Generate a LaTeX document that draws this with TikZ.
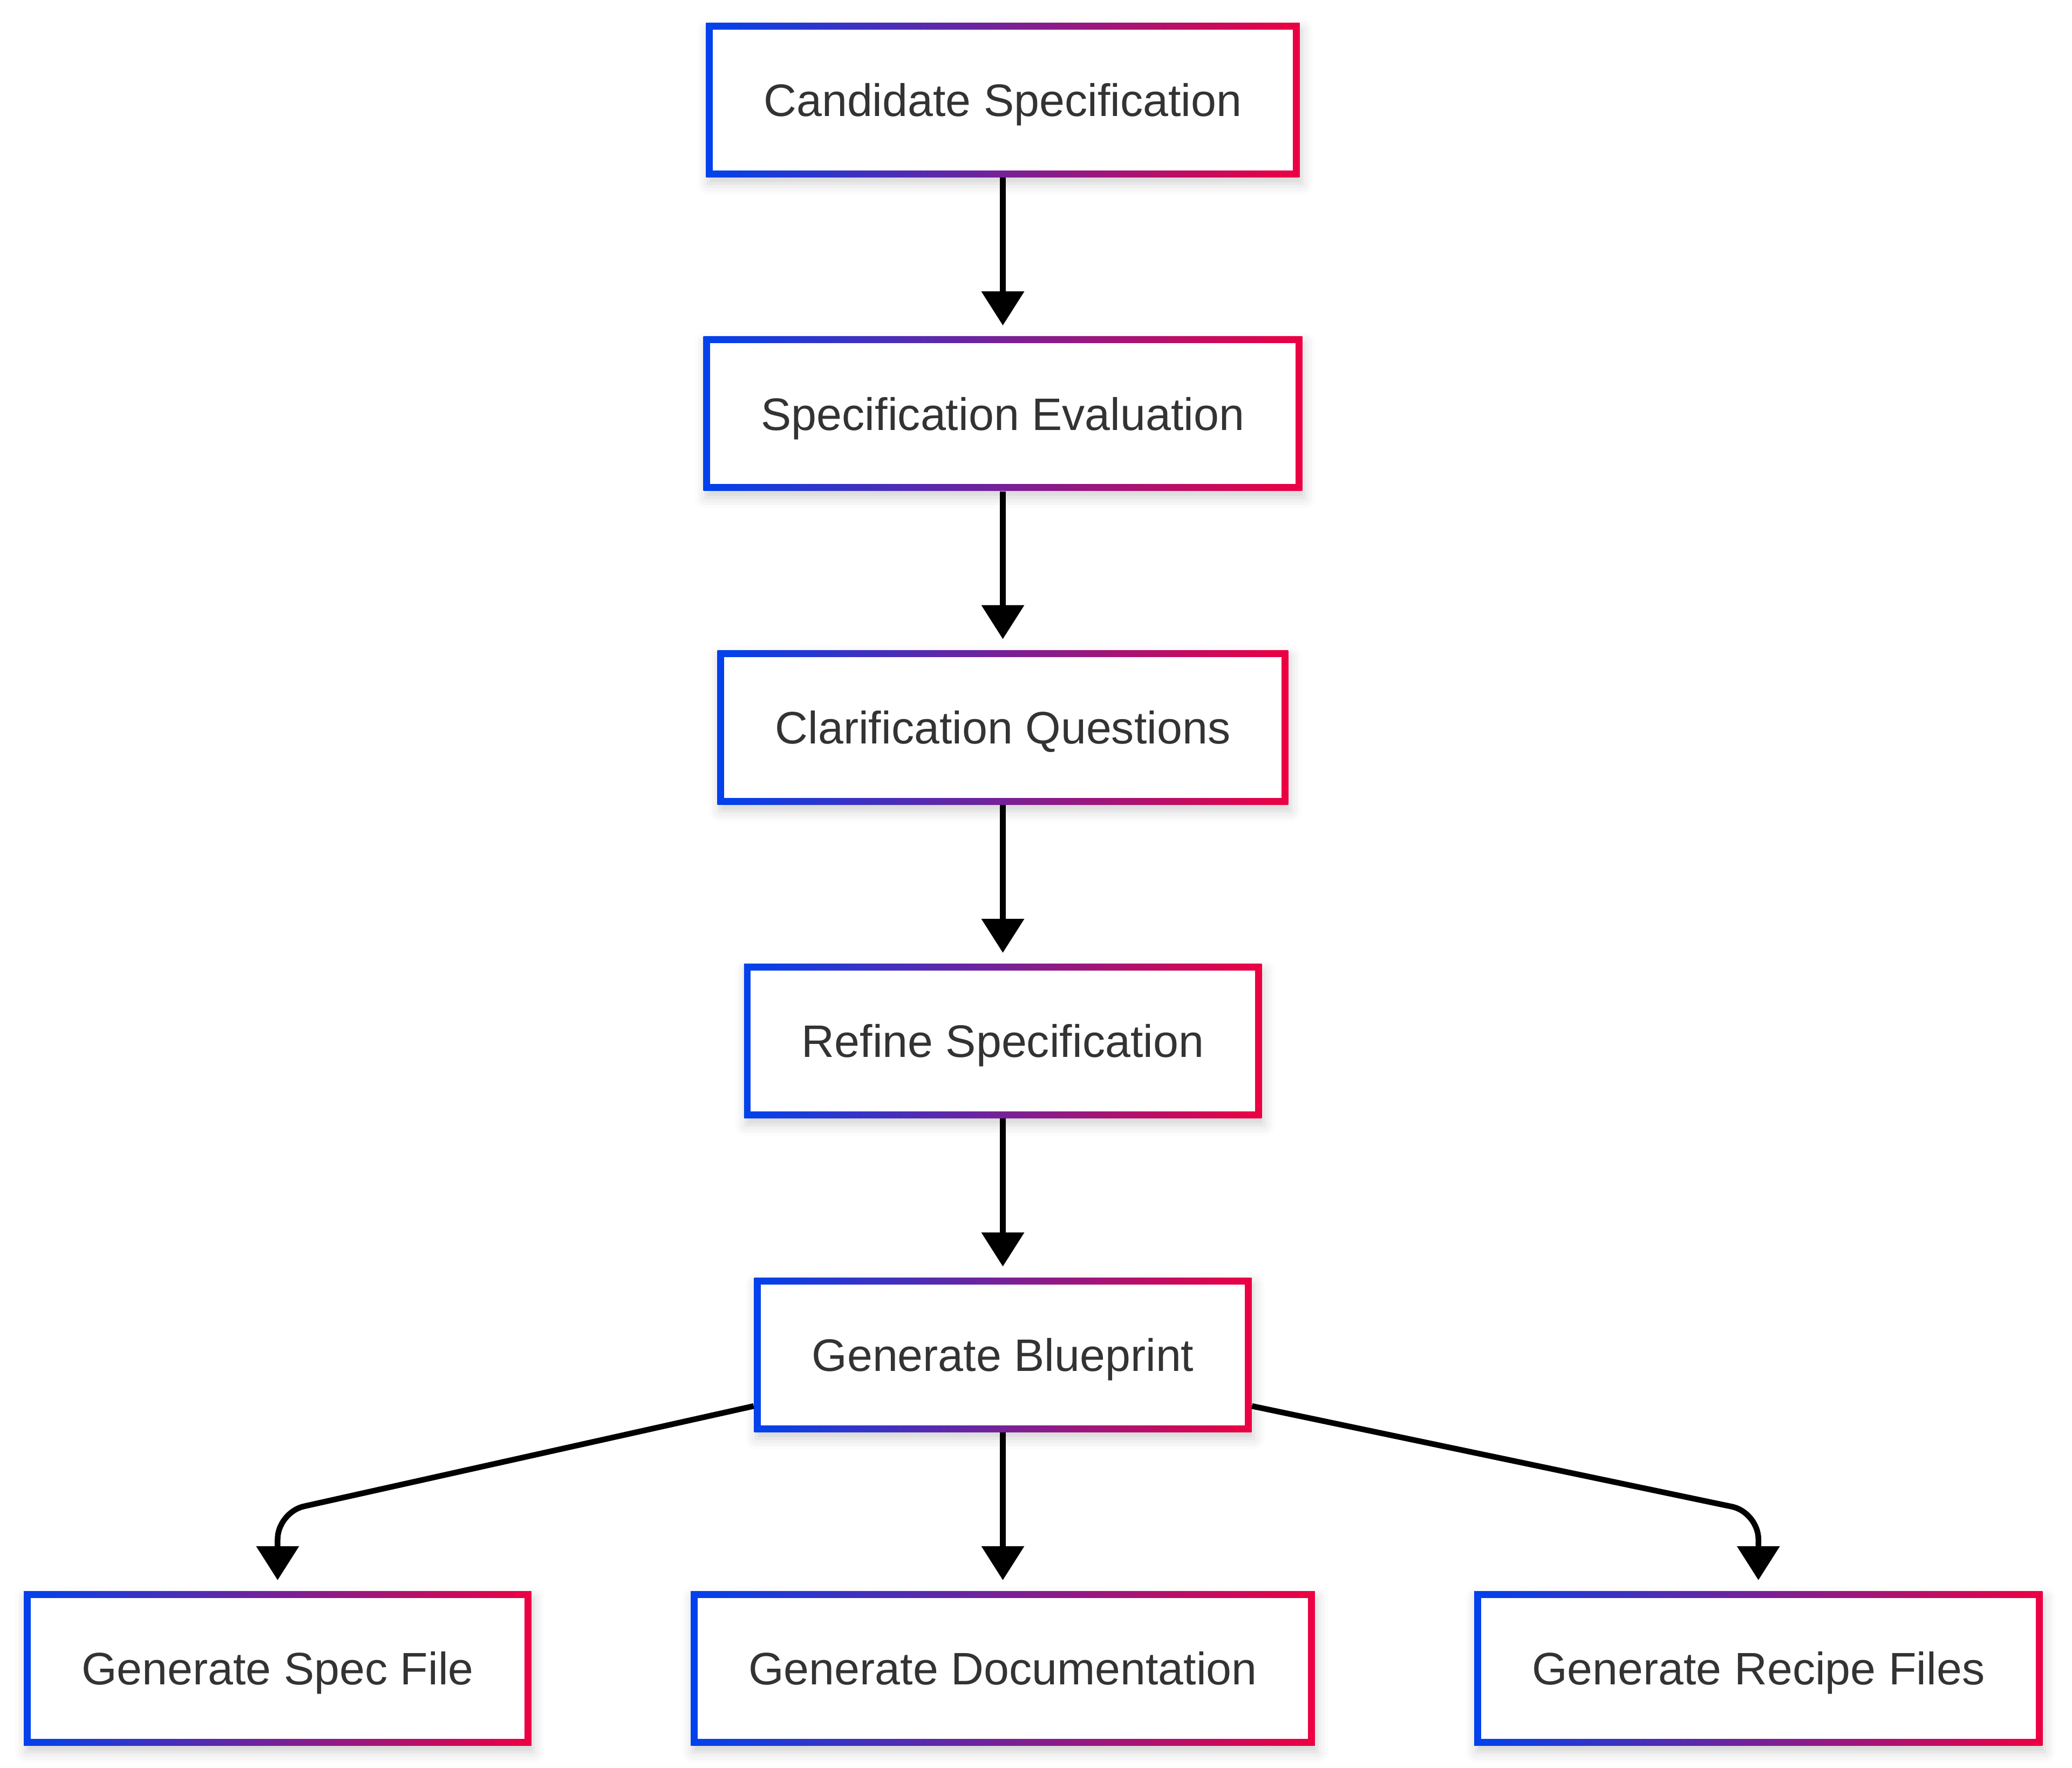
\documentclass[tikz,border=0pt]{standalone}
\usepackage{fontspec}
\setmainfont{Liberation Sans}
\usepackage{tikz}
\usetikzlibrary{positioning, arrows.meta, shadows.blur}

\definecolor{edgeblue}{RGB}{0,66,237}
\definecolor{edgered}{RGB}{237,0,66}
\definecolor{labelgray}{RGB}{51,51,51}

\begin{document}
\begin{tikzpicture}[node distance=29.4mm,
  stage node/.style={rectangle, minimum height=28.6mm, inner xsep=10.7mm, inner ysep=0pt,
    text height=6.05mm, text depth=0mm, text=labelgray, font=\fontsize{24}{29}\selectfont,
    fill=white,
    blur shadow={shadow xshift=0.4mm, shadow yshift=-1.2mm, shadow blur radius=2mm, shadow opacity=18},
    path picture={
      \shade[left color=edgeblue, right color=edgered]
        (path picture bounding box.south west) rectangle (path picture bounding box.north east);
      \fill[white] ([shift={(1.25mm,1.25mm)}]path picture bounding box.south west)
        rectangle ([shift={(-1.25mm,-1.25mm)}]path picture bounding box.north east);
    }},
  flow/.style={line width=1.05mm, -{Triangle[width=7.7mm, length=6.3mm]}, shorten >=2mm}]

\useasboundingbox (0,0) rectangle (384mm,-327.6mm);

\node[stage node] (cand) at (185.85mm,-18.55mm) {Candidate Specification};
\node[stage node] (evalspec) [below=of cand] {Specification Evaluation};
\node[stage node] (clarify) [below=of evalspec] {Clarification Questions};
\node[stage node] (refine) [below=of clarify] {Refine Specification};
\node[stage node] (blueprint) [below=of refine] {Generate Blueprint};
\node[stage node] (docs) [below=of blueprint] {Generate Documentation};
\node[stage node] (specfile) [left=of docs] {Generate Spec File};
\node[stage node] (recipes) [right=of docs] {Generate Recipe Files};

\path[flow]
(cand) edge (evalspec)
(evalspec) edge (clarify)
(clarify) edge (refine)
(refine) edge (blueprint)
(blueprint) edge (docs)
;

% side branches bend down onto the outer boxes
\draw[flow, rounded corners=5mm] ([yshift=-9.5mm]blueprint.west)
  -- ([yshift=14.6mm]specfile.north) -- (specfile.north);
\draw[flow, rounded corners=5mm] ([yshift=-9.5mm]blueprint.east)
  -- ([yshift=14.6mm]recipes.north) -- (recipes.north);

\end{tikzpicture}
\end{document}
